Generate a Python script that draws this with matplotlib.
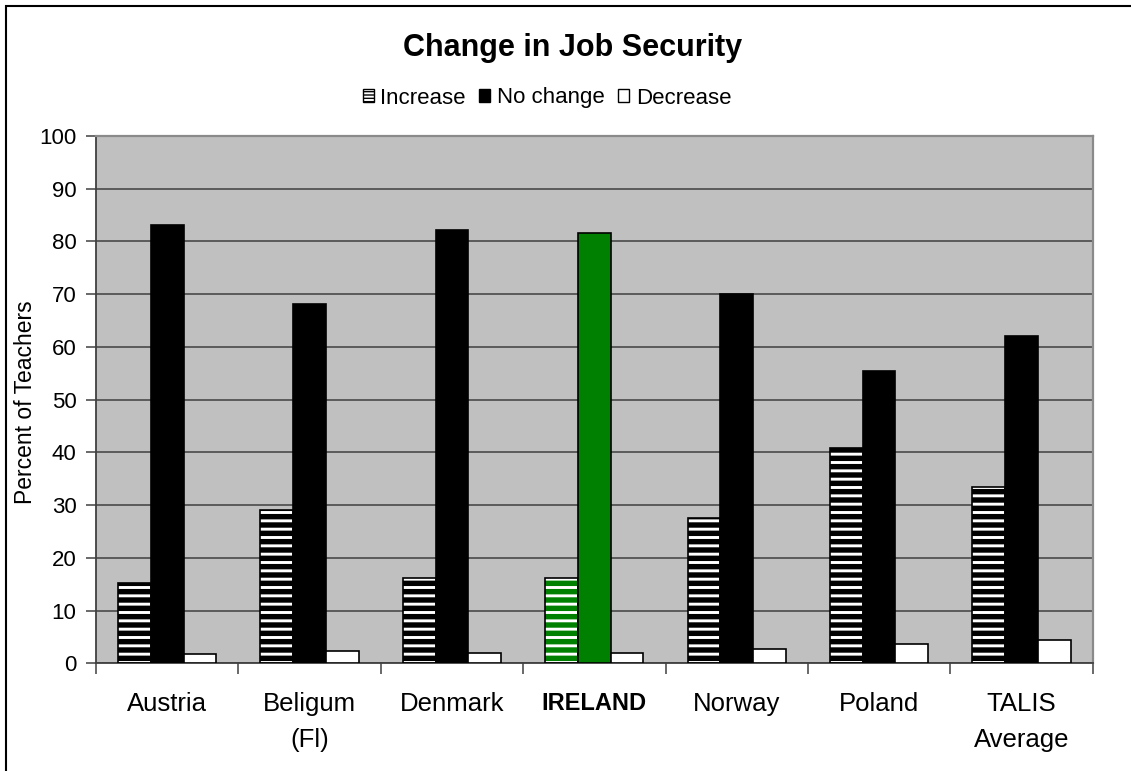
import matplotlib
matplotlib.use("Agg")
import matplotlib.pyplot as plt
import numpy as np
from matplotlib.patches import Patch, Rectangle
from matplotlib.ticker import FixedLocator

plt.rcParams['font.family'] = ['Liberation Sans', 'DejaVu Sans']

countries = ["Austria", "Beligum\n(Fl)", "Denmark", "IRELAND", "Norway", "Poland", "TALIS\nAverage"]
increase = [15.2, 29.0, 16.2, 16.2, 27.5, 40.8, 33.5]
no_change = [83.1, 68.1, 82.1, 81.6, 70.0, 55.5, 62.0]
decrease = [1.7, 2.3, 1.9, 1.95, 2.7, 3.7, 4.4]
highlight = "IRELAND"

fig = plt.figure(figsize=(11.31, 7.71), dpi=100)
W, H = 1131, 771
ax = fig.add_axes([96 / W, 1 - 663.3 / H, (1092.7 - 96) / W, (663.3 - 136) / H])
ax.set_facecolor('#c0c0c0')

x = np.arange(len(countries))
bw = 0.23
base_colors = ['#008000' if c == highlight else 'black' for c in countries]

# striped "Increase" bars: white stripes over the base colour, then a black outline
with plt.rc_context({'hatch.linewidth': 2.1}):
    ax.bar(x - bw, increase, bw, color=base_colors, edgecolor='white',
           hatch='--', linewidth=0, zorder=2)
ax.bar(x - bw, increase, bw, facecolor='none', edgecolor='black', linewidth=1.2, zorder=3)
ax.bar(x, no_change, bw, color=base_colors, edgecolor='black', linewidth=1.2, zorder=3)
ax.bar(x + bw, decrease, bw, color='white', edgecolor='black', linewidth=1.2, zorder=3)

ax.set_xlim(-0.5, len(countries) - 0.5)
ax.set_ylim(0, 100)
ax.set_yticks(np.arange(0, 101, 10))
ax.yaxis.grid(True, color='#404040', linewidth=1.1)
ax.set_axisbelow(True)

ax.set_xticks(x)
ax.set_xticklabels(countries, fontsize=18.5, linespacing=1.6)
ax.xaxis.set_minor_locator(FixedLocator(np.arange(-0.5, len(countries), 1.0)))
ax.tick_params(axis='x', which='major', length=0, pad=21)
ax.tick_params(axis='x', which='minor', length=8, direction='out', color='#404040', width=1.1)
ax.tick_params(axis='y', length=7, direction='out', color='#404040', width=1.1,
               labelsize=16, pad=7)
for lbl in ax.get_xticklabels():
    if lbl.get_text() == highlight:
        lbl.set_fontweight('bold')
        lbl.set_fontsize(17)

for side in ['left', 'bottom']:
    ax.spines[side].set_color('#404040')
    ax.spines[side].set_linewidth(1.3)
for side in ['top', 'right']:
    ax.spines[side].set_color('#8a8a8a')
    ax.spines[side].set_linewidth(1.6)

fig.text(26 / W, 1 - 402 / H, "Percent of Teachers", rotation=90,
         ha='center', va='center', fontsize=16.5)

fig.text(573 / W, 1 - 48 / H, "Change in Job Security",
         ha='center', va='center', fontsize=22, fontweight='bold')

with plt.rc_context({'hatch.linewidth': 1.0}):
    handles = [
        Patch(facecolor='white', edgecolor='black', hatch='-----', linewidth=1),
        Patch(facecolor='black', edgecolor='black', linewidth=1),
        Patch(facecolor='white', edgecolor='black', linewidth=1),
    ]
    fig.legend(handles, ["Increase", "No change", "Decrease"], loc='center',
               bbox_to_anchor=(547 / W, 1 - 98 / H), ncol=3,
               frameon=False, fontsize=16, handlelength=0.5, handleheight=0.5,
               handletextpad=0.3, columnspacing=0.6, borderpad=0)

# outer chart frame
fig.add_artist(Rectangle((6 / W, -0.05), 1.2, 1.05 - 6 / H, transform=fig.transFigure,
                         facecolor='none', edgecolor='black', linewidth=1.5, clip_on=False))

fig.savefig("out.png", dpi=100)
